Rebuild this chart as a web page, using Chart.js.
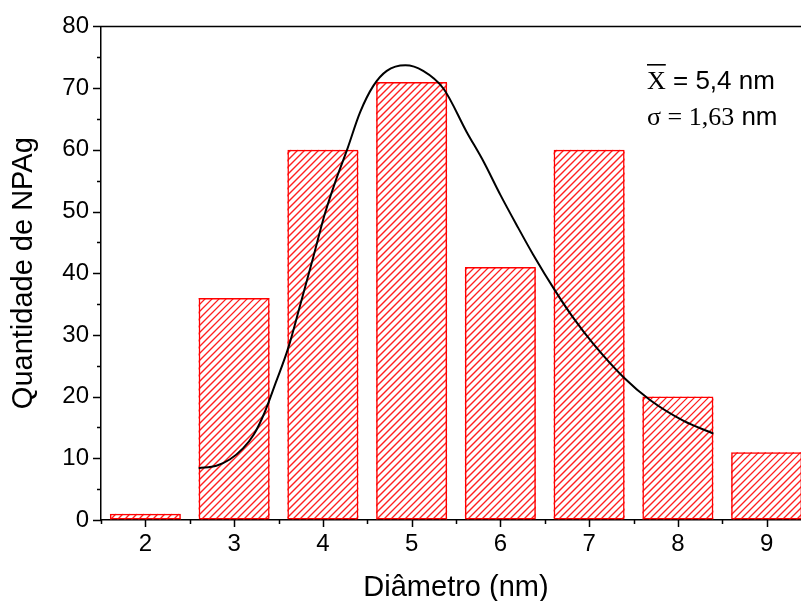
<!DOCTYPE html>
<html>
<head>
<meta charset="utf-8">
<script src="https://cdn.jsdelivr.net/npm/chart.js@4"></script>
<style>
  html, body { margin: 0; padding: 0; background: #fff; overflow: hidden; }
  #wrap { width: 811px; height: 601px; position: relative; }
</style>
</head>
<body>
<div id="wrap"><canvas id="myChart"></canvas></div>
<script>
// histogram
const sizes = [2, 3, 4, 5, 6, 7, 8, 9];
const counts = [1, 36, 60, 71, 41, 60, 20, 11];

// fitted curve
const fitX = [2.60, 2.80, 2.95, 3.10, 3.22, 3.34, 3.47, 3.61, 3.74, 3.89, 4.02, 4.14, 4.27, 4.42, 4.57, 4.72, 4.93,
  5.13, 5.36, 5.62, 5.81, 6.00, 6.18, 6.37, 6.62, 6.82, 7.05, 7.39, 7.69, 8.06, 8.40];
const fitY = [8.4, 8.8, 9.8, 11.6, 13.8, 17.3, 22.3, 27.9, 34.6, 42.5, 49.5, 54.8, 59.9, 66.1, 70.4, 72.8, 73.7,
  72.8, 69.9, 62.9, 58.1, 52.7, 47.9, 43.0, 37.1, 32.8, 28.5, 23.1, 19.4, 16.1, 14.0];

const xTicks = [2, 3, 4, 5, 6, 7, 8, 9];
const yTicks = [0, 10, 20, 30, 40, 50, 60, 70, 80];

const SANS = "'Liberation Sans', Arial, sans-serif";
const SERIF = "'Liberation Serif', 'Times New Roman', serif";

var ctx = document.getElementById('myChart').getContext('2d');

// red "/" hatching inside every bar, drawn just before the bars themselves
const hatch = {
  id: 'hatch',
  beforeDatasetDraw(chart, args) {
    if (args.meta.type !== 'bar') return;
    const c = chart.ctx;
    const step = 7;
    c.save();
    c.strokeStyle = '#ff2020';
    c.lineWidth = 1.3;
    args.meta.data.forEach(el => {
      const p = el.getProps(['x', 'y', 'base', 'width'], true);
      const l = p.x - p.width / 2, r = p.x + p.width / 2;
      const t = Math.min(p.y, p.base), b = Math.max(p.y, p.base);
      c.save();
      c.beginPath();
      c.rect(l, t, r - l, b - t);
      c.clip();
      c.beginPath();
      for (let k = Math.floor((l + t) / step) * step; k <= r + b; k += step) {
        c.moveTo(k - b, b);
        c.lineTo(k - t, t);
      }
      c.stroke();
      c.restore();
    });
    c.restore();
  }
};

// ticks (major + minor), top/right frame, stats text
const frame = {
  id: 'frame',
  afterDraw(chart) {
    const c = chart.ctx;
    const a = chart.chartArea;
    const xs = chart.scales.x, ys = chart.scales.y;
    c.save();
    c.strokeStyle = '#000';
    c.lineWidth = 1.5;
    c.beginPath();
    c.moveTo(a.left, a.top); c.lineTo(a.right, a.top);
    c.moveTo(a.right, a.top); c.lineTo(a.right, a.bottom);
    for (let v = 0; v <= 80; v += 5) {
      const py = Math.round(ys.getPixelForValue(v)) + 0.5;
      c.moveTo(a.left, py); c.lineTo(a.left - (v % 10 === 0 ? 8 : 4), py);
    }
    for (let v = 1.5; v <= 9.5; v += 0.5) {
      const px = Math.round(xs.getPixelForValue(v)) + 0.5;
      c.moveTo(px, a.bottom); c.lineTo(px, a.bottom + (v % 1 === 0 ? 7 : 4));
    }
    c.stroke();

    // statistics
    c.fillStyle = '#000';
    c.textBaseline = 'alphabetic';
    c.font = '26px ' + SERIF;
    const x0 = 647;
    c.fillText('X', x0, 89);
    const wX = c.measureText('X').width;
    c.fillRect(x0, 64, wX, 1.6);
    c.font = '26px ' + SANS;
    c.fillText(' = 5,4 nm', x0 + wX, 89);
    c.font = '26px ' + SERIF;
    c.fillText('\u03c3 = 1,63', x0, 125);
    const wS = c.measureText('\u03c3 = 1,63').width;
    c.font = '26px ' + SANS;
    c.fillText(' nm', x0 + wS, 125);
    c.restore();
  }
};

const myChart = new Chart(ctx, {
  type: 'bar',
  data: {
    datasets: [
      {
        type: 'line',
        label: 'ajuste',
        data: fitX.map((x, i) => ({ x: x, y: fitY[i] })),
        borderColor: '#000',
        borderWidth: 2,
        pointRadius: 0,
        cubicInterpolationMode: 'monotone',
        fill: false,
        order: 0
      },
      {
        label: 'NPAg',
        data: sizes.map((x, i) => ({ x: x, y: counts[i] })),
        backgroundColor: 'rgba(0,0,0,0)',
        borderColor: '#ff0000',
        borderWidth: 1.5,
        borderSkipped: false,
        barPercentage: 0.8,
        categoryPercentage: 1.0,
        order: 1
      }
    ]
  },
  options: {
    responsive: true,
    maintainAspectRatio: false,
    animation: false,
    layout: { padding: { top: 24, left: 0, right: 0, bottom: 0 } },
    plugins: { legend: { display: false }, tooltip: { enabled: false } },
    scales: {
      x: {
        type: 'linear',
        offset: false,
        min: 1.5,
        max: 9.5,
        afterBuildTicks: s => { s.ticks = xTicks.map(v => ({ value: v })); },
        afterFit: s => { s.height = 81; },
        grid: { offset: false, drawOnChartArea: false, drawTicks: false },
        border: { display: true, color: '#000', width: 1.5 },
        ticks: { color: '#000', padding: 10, font: { family: SANS, size: 24 }, maxRotation: 0 },
        title: {
          display: true, text: 'Diâmetro (nm)', color: '#000',
          font: { family: SANS, size: 29, lineHeight: 0.9 }, padding: 0
        }
      },
      y: {
        min: 0,
        max: 80,
        afterBuildTicks: s => { s.ticks = yTicks.map(v => ({ value: v })); },
        afterFit: s => { s.width = 101; },
        grid: { drawOnChartArea: false, drawTicks: false },
        border: { display: true, color: '#000', width: 1.5 },
        ticks: { color: '#000', padding: 12, font: { family: SANS, size: 24 } },
        title: {
          display: true, text: 'Quantidade de NPAg', color: '#000',
          font: { family: SANS, size: 29, lineHeight: 1.2 }, padding: { top: 7, bottom: 0 }
        }
      }
    }
  },
  plugins: [hatch, frame]
});
</script>
</body>
</html>
